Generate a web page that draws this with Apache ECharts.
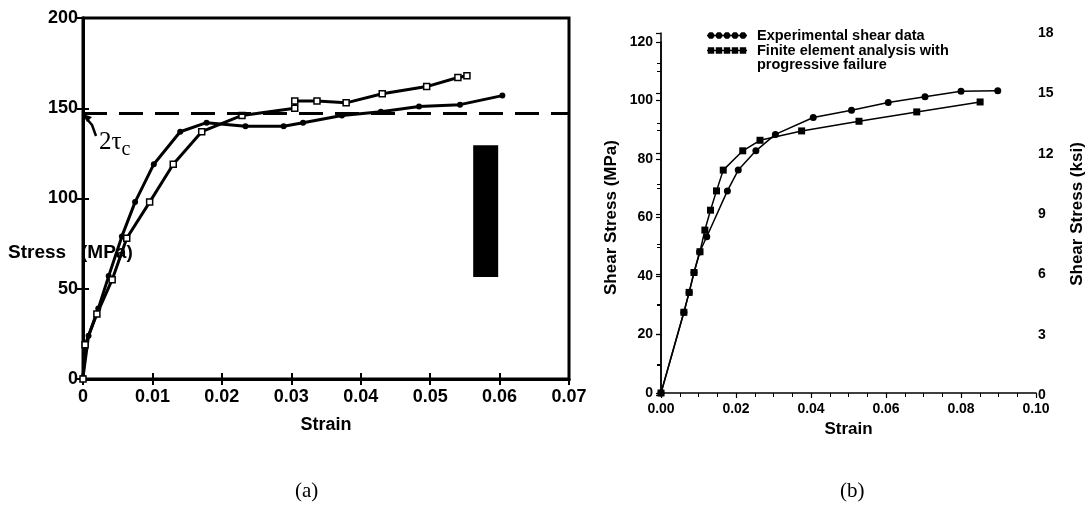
<!DOCTYPE html>
<html>
<head>
<meta charset="utf-8">
<script src="https://cdn.jsdelivr.net/npm/echarts@6/dist/echarts.min.js"></script>
<style>
  html, body { margin: 0; padding: 0; background: #fff; }
  #chart { width: 1087px; height: 517px; }
</style>
</head>
<body>
<div id="chart"></div>
<script>
// (a) stress-strain, two curves
var strainA = [0, 0.0008, 0.0022, 0.0037, 0.0056, 0.0075, 0.0102, 0.014, 0.0178, 0.0234, 0.0289, 0.0317, 0.0373, 0.0429, 0.0484, 0.0543, 0.0604]
var stressA = [1, 24, 39, 57, 79, 98, 119, 137, 142, 140, 140, 142, 146, 148, 151, 152, 157]
var strainB = [0, 0.0003, 0.002, 0.0042, 0.0063, 0.0096, 0.013, 0.0171, 0.0229, 0.0305, 0.0305, 0.0337, 0.0379, 0.0431, 0.0495, 0.054, 0.0553]
var stressB = [0, 19, 36, 55, 78, 98, 119, 137, 146, 150, 154, 154, 153, 158, 162, 167, 168]
var criticalStress = 147.5
var specimenBox = [0.0562, 56.5, 0.0598, 129.5]

// (b) shear stress vs strain
var expStrain = [0, 0.0061, 0.0075, 0.0088, 0.0103, 0.0122, 0.0177, 0.0206, 0.0253, 0.0305, 0.0406, 0.0508, 0.0606, 0.0704, 0.08, 0.0898]
var expStress = [0, 27.6, 34.4, 41.2, 48.2, 53.4, 69.1, 76.2, 82.8, 88.4, 94.2, 96.7, 99.3, 101.3, 103.2, 103.3]
var feaStrain = [0, 0.0061, 0.0075, 0.0088, 0.0104, 0.0117, 0.0132, 0.0148, 0.0166, 0.0218, 0.0264, 0.0375, 0.0528, 0.0682, 0.0851]
var feaStress = [0, 27.6, 34.4, 41.2, 48.3, 55.7, 62.5, 69.1, 76.2, 82.8, 86.4, 89.6, 92.9, 96.1, 99.5]

function pairs(xs, ys) {
  return xs.map(function (x, i) { return [x, ys[i]] })
}

// legend icons: row of five dots / squares on a line
function dotRow(square) {
  var p = 'M0 4 L50 4 L50 6 L0 6 Z'
  for (var i = 0; i < 5; i++) {
    var c = 5 + i * 10
    if (square) {
      p += ' M' + (c - 4) + ' 1 L' + (c + 4) + ' 1 L' + (c + 4) + ' 9 L' + (c - 4) + ' 9 Z'
    } else {
      p += ' M' + (c - 2) + ' 1 L' + (c + 2) + ' 1 L' + (c + 4) + ' 3 L' + (c + 4) + ' 7 L' + (c + 2) + ' 9 L' +
        (c - 2) + ' 9 L' + (c - 4) + ' 7 L' + (c - 4) + ' 3 Z'
    }
  }
  return 'path://' + p
}

var font = '"Liberation Sans", Arial, sans-serif'
var serif = '"Liberation Serif", "Times New Roman", serif'
var chart = echarts.init(document.getElementById('chart'))

chart.setOption({
  animation: false,
  backgroundColor: '#fff',
  grid: [
    {left: 83, top: 18, width: 486, height: 361, show: true, borderColor: '#000', borderWidth: 3},
    {left: 661, top: 42, width: 375, height: 351},
    {left: 661, top: 33, width: 375, height: 362}
  ],
  legend: {
    left: 707,
    top: 28,
    padding: 0,
    orient: 'vertical',
    itemWidth: 40,
    itemHeight: 8,
    itemGap: 0,
    textStyle: {fontFamily: font, fontWeight: 'bold', fontSize: 14.5, color: '#000', lineHeight: 14, padding: [0, 0, 0, 5]},
    data: [
      {name: 'Experimental shear data', icon: dotRow(false)},
      {name: 'Finite element analysis with', icon: dotRow(true)}
    ]
  },
  xAxis: [
    {
      gridIndex: 0, type: 'value', min: 0, max: 0.07, interval: 0.01,
      name: 'Strain', nameLocation: 'middle', nameGap: 37,
      nameTextStyle: {fontFamily: font, fontWeight: 'bold', fontSize: 18, color: '#000'},
      axisLine: {lineStyle: {color: '#000', width: 3}},
      axisTick: {inside: true, length: 6, lineStyle: {color: '#000', width: 2}},
      axisLabel: {
        margin: 9, fontFamily: font, fontWeight: 'bold', fontSize: 18, color: '#000',
        formatter: function (v) { return v === 0 ? '0' : v.toFixed(2) }
      },
      splitLine: {show: false}
    },
    {
      gridIndex: 0, type: 'value', position: 'top', min: 0, max: 0.07, interval: 0.01,
      axisLine: {lineStyle: {color: '#000', width: 3}},
      axisTick: {inside: true, length: 6, lineStyle: {color: '#000', width: 2}},
      axisLabel: {show: false},
      splitLine: {show: false}
    },
    {
      gridIndex: 1, type: 'value', min: 0, max: 0.1, interval: 0.02,
      name: 'Strain', nameLocation: 'middle', nameGap: 21,
      nameTextStyle: {fontFamily: font, fontWeight: 'bold', fontSize: 17, color: '#000'},
      axisLine: {lineStyle: {color: '#000', width: 1.5}},
      axisTick: {length: 5, lineStyle: {color: '#000', width: 1.2}},
      minorTick: {show: true, splitNumber: 4, length: 4, lineStyle: {color: '#000', width: 1}},
      axisLabel: {
        margin: 9, fontFamily: font, fontWeight: 'bold', fontSize: 14, color: '#000',
        formatter: function (v) { return v.toFixed(2) }
      },
      splitLine: {show: false}
    },
    {gridIndex: 2, type: 'value', min: 0, max: 0.1, show: false}
  ],
  yAxis: [
    {
      gridIndex: 0, type: 'value', min: 0, max: 200, interval: 50,
      axisLine: {lineStyle: {color: '#000', width: 3}},
      axisTick: {inside: true, length: 6, lineStyle: {color: '#000', width: 2}},
      axisLabel: {margin: 5, fontFamily: font, fontWeight: 'bold', fontSize: 18, color: '#000'},
      splitLine: {show: false}
    },
    {
      gridIndex: 0, type: 'value', position: 'right', min: 0, max: 200, interval: 50,
      axisLine: {lineStyle: {color: '#000', width: 3}},
      axisTick: {inside: true, length: 6, lineStyle: {color: '#000', width: 2}},
      axisLabel: {show: false},
      splitLine: {show: false}
    },
    {
      gridIndex: 1, type: 'value', min: 0, max: 120, interval: 20,
      name: 'Shear Stress (MPa)', nameLocation: 'middle', nameGap: 41, nameRotate: 90,
      nameTextStyle: {fontFamily: font, fontWeight: 'bold', fontSize: 17, color: '#000'},
      axisLine: {lineStyle: {color: '#000', width: 1.5}},
      axisTick: {length: 5, lineStyle: {color: '#000', width: 1.2}},
      minorTick: {show: true, splitNumber: 2, length: 4, lineStyle: {color: '#000', width: 1}},
      axisLabel: {margin: 8, fontFamily: font, fontWeight: 'bold', fontSize: 14, color: '#000'},
      splitLine: {show: false}
    },
    {
      gridIndex: 2, type: 'value', position: 'right', min: 0, max: 18, interval: 3,
      name: 'Shear Stress (ksi)', nameLocation: 'middle', nameGap: 38, nameRotate: 90,
      nameTextStyle: {fontFamily: font, fontWeight: 'bold', fontSize: 17, color: '#000'},
      axisLine: {lineStyle: {color: '#000', width: 1.5}},
      axisTick: {inside: true, length: 5, lineStyle: {color: '#000', width: 1.2}},
      minorTick: {show: true, splitNumber: 2, length: 4, lineStyle: {color: '#000', width: 1}},
      axisLabel: {margin: 7, fontFamily: font, fontWeight: 'bold', fontSize: 14, color: '#000'},
      splitLine: {show: false}
    }
  ],
  series: [
    {
      type: 'line', xAxisIndex: 0, yAxisIndex: 0,
      data: pairs(strainA, stressA),
      symbol: 'circle', symbolSize: 6,
      lineStyle: {color: '#000', width: 3},
      itemStyle: {color: '#000'},
      markLine: {
        silent: true, symbol: 'none', label: {show: false},
        lineStyle: {color: '#000', width: 3, type: [24, 12]},
        data: [{yAxis: criticalStress}]
      }
    },
    {
      type: 'line', xAxisIndex: 0, yAxisIndex: 0,
      data: pairs(strainB, stressB),
      symbol: 'rect', symbolSize: 6,
      lineStyle: {color: '#000', width: 3},
      itemStyle: {color: '#fff', borderColor: '#000', borderWidth: 1.5},
      markArea: {
        silent: true,
        itemStyle: {color: '#000', opacity: 1},
        data: [[{coord: [specimenBox[0], specimenBox[3]]}, {coord: [specimenBox[2], specimenBox[1]]}]]
      }
    },
    {
      name: 'Experimental shear data',
      type: 'line', xAxisIndex: 2, yAxisIndex: 2,
      data: pairs(expStrain, expStress),
      symbol: 'circle', symbolSize: 7,
      lineStyle: {color: '#000', width: 1.5},
      itemStyle: {color: '#000'}
    },
    {
      name: 'Finite element analysis with',
      type: 'line', xAxisIndex: 2, yAxisIndex: 2,
      data: pairs(feaStrain, feaStress),
      symbol: 'rect', symbolSize: 7,
      lineStyle: {color: '#000', width: 1.5},
      itemStyle: {color: '#000'}
    }
  ],
  graphic: [
    {
      type: 'text', left: 8, top: 243,
      style: {text: 'Stress', fontFamily: font, fontWeight: 'bold', fontSize: 19, fill: '#000'}
    },
    {
      type: 'text', left: 81, top: 243,
      style: {text: '(MPa)', fontFamily: font, fontWeight: 'bold', fontSize: 19, fill: '#000'}
    },
    {
      type: 'text', left: 757, top: 57,
      style: {text: 'progressive failure', fontFamily: font, fontWeight: 'bold', fontSize: 14.5, fill: '#000'}
    },
    {
      type: 'text', left: 99, top: 130,
      style: {
        text: '{a|2τ}{b|c}',
        rich: {
          a: {fontFamily: serif, fontSize: 25, fill: '#000', verticalAlign: 'bottom'},
          b: {fontFamily: serif, fontSize: 20, fill: '#000', verticalAlign: 'bottom', padding: [0, 0, -5, 0]}
        }
      }
    },
    {
      type: 'polyline',
      shape: {points: [[96, 136], [92, 125], [86, 118]]},
      style: {stroke: '#000', lineWidth: 2.5, fill: null}
    },
    {
      type: 'polygon',
      shape: {points: [[83, 114], [92, 117], [87, 122]]},
      style: {fill: '#000'}
    },
    {
      type: 'text', left: 295, top: 481,
      style: {text: '(a)', fontFamily: serif, fontSize: 21, fill: '#000'}
    },
    {
      type: 'text', left: 840, top: 481,
      style: {text: '(b)', fontFamily: serif, fontSize: 21, fill: '#000'}
    }
  ]
})
</script>
</body>
</html>
